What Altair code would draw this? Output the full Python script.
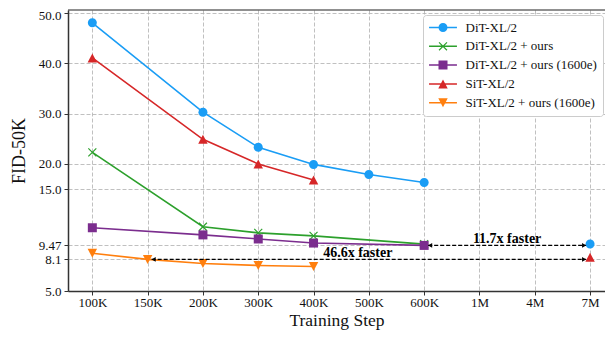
import json
import math
import altair as alt
import pandas as pd

# ---------------- data ----------------
steps = ["100K", "150K", "200K", "300K", "400K", "500K", "600K", "1M", "4M", "7M"]
series_names = ["DiT-XL/2", "DiT-XL/2 + ours", "DiT-XL/2 + ours (1600e)",
                "SiT-XL/2", "SiT-XL/2 + ours (1600e)"]
colors = ["#1a9df5", "#2ca02c", "#7b2d8e", "#d62728", "#ff7f0e"]

dit_steps = ["100K", "200K", "300K", "400K", "500K", "600K", "7M"]
dit_fid = [48.1, 30.3, 23.3, 19.9, 17.9, 16.3, 9.6]
dit_seg = [0, 0, 0, 0, 0, 0, 1]

dit_ours_steps = ["100K", "200K", "300K", "400K", "600K"]
dit_ours_fid = [22.3, 11.3, 10.7, 10.4, 9.6]

dit_1600_steps = ["100K", "200K", "300K", "400K", "600K"]
dit_1600_fid = [11.2, 10.5, 10.1, 9.7, 9.47]

sit_steps = ["100K", "200K", "300K", "400K", "7M"]
sit_fid = [41.1, 24.9, 20.0, 16.8, 8.3]
sit_seg = [0, 0, 0, 0, 1]

sit_1600_steps = ["100K", "150K", "200K", "300K", "400K"]
sit_1600_fid = [8.7, 8.1, 7.7, 7.5, 7.4]

y_ticks = [5.0, 8.1, 9.47, 15.0, 20.0, 30.0, 40.0, 50.0]

ann_from = ["600K", "150K"]
ann_to = ["7M", "7M"]
ann_y = [9.47, 8.1]
ann_text = ["11.7x faster", "46.6x faster"]
ann_text_pos = [7.5, 4.8]

# ---------------- tables ----------------
rows = []
def add(name, st, fid, seg=None):
    for i, (s, v) in enumerate(zip(st, fid)):
        rows.append({"series": name, "step": s, "idx": steps.index(s), "fid": v,
                     "grp": f"{name}-{seg[i] if seg else 0}"})
add(series_names[0], dit_steps, dit_fid, dit_seg)
add(series_names[1], dit_ours_steps, dit_ours_fid)
add(series_names[2], dit_1600_steps, dit_1600_fid)
add(series_names[3], sit_steps, sit_fid, sit_seg)
add(series_names[4], sit_1600_steps, sit_1600_fid)
df = pd.DataFrame(rows)

ann = pd.DataFrame({
    "x1": [steps.index(s) for s in ann_from],
    "x2": [steps.index(s) for s in ann_to],
    "y": ann_y, "text": ann_text, "tx": ann_text_pos,
})

# ---------------- marker shapes ----------------
def f(v):
    return f"{v:.3f}".rstrip("0").rstrip(".")

def rect_path(x0, x1, t, ang=0.0):
    pts = [(x0, -t), (x1, -t), (x1, t), (x0, t)]
    c, s = math.cos(ang), math.sin(ang)
    pts = [(x * c - y * s, x * s + y * c) for x, y in pts]
    return "M" + "L".join(f"{f(x)},{f(y)}" for x, y in pts) + "Z"

circle_p = "M1,0A1,1,0,1,1,-1,0A1,1,0,1,1,1,0Z"
square_p = "M-1,-1L1,-1L1,1L-1,1Z"
tri_up_p = "M0,-1L1.05,1L-1.05,1Z"
tri_dn_p = "M-1.05,-1L1.05,-1L0,1Z"
cross_p = rect_path(-1.25, 1.25, 0.13, math.pi / 4) + rect_path(-1.25, 1.25, 0.13, -math.pi / 4)
marker_paths = [circle_p, cross_p, square_p, tri_up_p, tri_dn_p]
line_p = rect_path(-3.1, 3.1, 0.17)
legend_paths = [line_p + p for p in marker_paths]

# ---------------- geometry ----------------
W, H = 537, 281
x_dom = [-0.44, 9.27]
y_dom = [5.0, 15.0, 50.65]
y_rng = [H, 179, 0]

FONT = "Liberation Serif"
label_expr_x = json.dumps(steps).replace('"', "'") + "[datum.value]"

x_axis = alt.Axis(values=list(range(len(steps))), labelExpr=label_expr_x,
                  title="Training Step", grid=True)
y_axis = alt.Axis(values=y_ticks, labelOverlap=False,
                  labelExpr="datum.value == 9.47 ? '9.47' : format(datum.value, '.1f')",
                  labelOffset={"condition": {"test": "datum.value >= 50", "value": 2}, "value": 0},
                  title="FID-50K", grid=True)
x_scale = alt.Scale(domain=x_dom, nice=False, zero=False)
y_scale = alt.Scale(domain=y_dom, range=y_rng, nice=False, zero=False)

X = lambda fld: alt.X(fld, type="quantitative", scale=x_scale, axis=x_axis)
Y = lambda fld: alt.Y(fld, type="quantitative", scale=y_scale, axis=y_axis)

color_scale = alt.Scale(domain=series_names, range=colors)

base = alt.Chart(df)

lines = base.mark_line(strokeWidth=1.6).encode(
    x=X("idx"), y=Y("fid"),
    color=alt.Color("series:N", scale=color_scale, legend=None),
    detail="grp:N",
)

points = base.mark_point(filled=True, size=81, opacity=1, strokeWidth=0).encode(
    x=X("idx"), y=Y("fid"),
    color=alt.Color("series:N", scale=color_scale, legend=None),
    shape=alt.Shape("series:N", scale=alt.Scale(domain=series_names, range=marker_paths), legend=None),
)

leg = alt.Legend(title=None, orient="none", legendX=355, legendY=5, padding=6,
                 rowPadding=4.8, symbolOffset=7.5, labelOffset=16,
                 labelFont=FONT, labelFontSize=13, labelColor="#111",
                 fillColor="white", strokeColor="#cccccc", cornerRadius=3,
                 symbolSize=81, symbolStrokeWidth=0, symbolOpacity=1)

legend_layer = base.mark_point(filled=True, size=81, opacity=1, strokeWidth=0).encode(
    color=alt.Color("series:N", scale=color_scale, legend=leg),
    shape=alt.Shape("series:N", scale=alt.Scale(domain=series_names, range=legend_paths), legend=leg),
).transform_filter("false")

top_border = alt.Chart(pd.DataFrame({"a": [0]})).mark_rule(color="#222", strokeWidth=1.2).encode(
    x=alt.X(datum=x_dom[0], type="quantitative", scale=x_scale, axis=x_axis),
    x2=alt.X2(datum=x_dom[1]),
    y=alt.Y(datum=y_dom[-1], type="quantitative", scale=y_scale, axis=y_axis),
)

abase = alt.Chart(ann)
arrows = abase.mark_rule(color="black", strokeWidth=1.1, strokeDash=[4, 2],
                         xOffset=4, x2Offset=-4).encode(x=X("x1"), x2="x2:Q", y=Y("y"))
head_l = abase.mark_point(shape="triangle-left", filled=True, size=22, color="black",
                          opacity=1, xOffset=6).encode(x=X("x1"), y=Y("y"))
head_r = abase.mark_point(shape="triangle-right", filled=True, size=22, color="black",
                          opacity=1, xOffset=-6).encode(x=X("x2"), y=Y("y"))
texts = abase.mark_text(font=FONT, fontSize=14, fontWeight="bold", baseline="alphabetic",
                        dy=-2, color="black").encode(x=X("tx"), y=Y("y"), text="text:N")

chart = alt.layer(
    lines, points, arrows, head_l, head_r, texts, top_border, legend_layer
).resolve_scale(color="independent", shape="independent").properties(
    width=W, height=H,
    padding={"left": 60, "top": 2, "right": 0, "bottom": 39},
    autosize=alt.AutoSizeParams(type="none"),
).configure_view(stroke=None).configure_axis(
    labelFont=FONT, titleFont=FONT, labelFontSize=13, titleFontSize=18,
    titleFontWeight="normal", labelColor="#111", titleColor="#111",
    gridColor="#b0b0b0", gridDash=[4, 2], gridWidth=0.8,
    domainColor="#333", domainWidth=1.5, tickColor="#333", tickSize=4, tickWidth=1,
    labelPadding=3,
).configure_axisX(labelPadding=1.5, titlePadding=1.5, titleFontSize=17.5).configure_axisY(titlePadding=10)

chart.save("out.html", embed_options={"renderer": "svg", "actions": False})
